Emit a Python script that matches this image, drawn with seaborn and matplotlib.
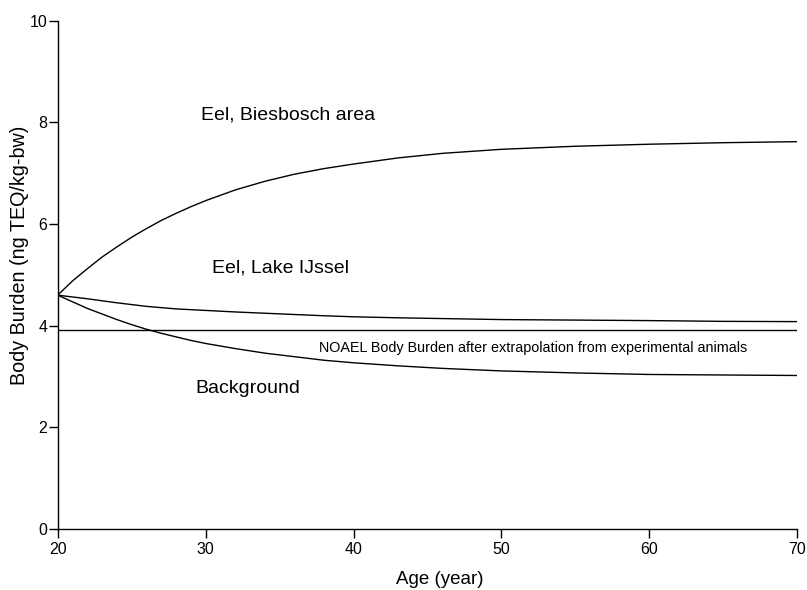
import numpy as np
import pandas as pd
import seaborn as sns
import matplotlib
matplotlib.use("Agg")
import matplotlib.pyplot as plt

# ---- data ----
ages = [20, 21, 22, 23, 24, 25, 26, 27, 28, 29, 30, 32, 34, 36, 38, 40, 43, 46, 50, 55, 60, 65, 70]
biesbosch = [4.60, 4.88, 5.12, 5.35, 5.55, 5.74, 5.91, 6.07, 6.21, 6.34, 6.46,
             6.67, 6.84, 6.98, 7.09, 7.18, 7.30, 7.39, 7.47, 7.53, 7.57, 7.60, 7.62]
lake_ijssel = [4.60, 4.565, 4.53, 4.49, 4.45, 4.415, 4.38, 4.355, 4.33, 4.315, 4.30,
               4.27, 4.245, 4.22, 4.195, 4.175, 4.155, 4.14, 4.12, 4.11, 4.10, 4.085, 4.08]
background = [4.60, 4.47, 4.34, 4.23, 4.12, 4.02, 3.93, 3.85, 3.78, 3.71, 3.65,
              3.55, 3.46, 3.39, 3.32, 3.27, 3.21, 3.16, 3.11, 3.07, 3.04, 3.03, 3.02]
noael_ages = [20, 70]
noael_value = [3.92, 3.92]

series_names = ["Eel, Biesbosch area", "Eel, Lake IJssel", "Background",
                "NOAEL Body Burden after extrapolation from experimental animals"]
label_x = [29.7, 30.45, 29.33, 37.69]
label_y = [8.15, 5.13, 2.755, 3.56]
label_size = [14, 14, 14, 10.4]

x_ticks = [20, 30, 40, 50, 60, 70]
y_ticks = [0, 2, 4, 6, 8, 10]

df = pd.concat([
    pd.DataFrame({"Age": ages, "Burden": biesbosch, "Series": series_names[0]}),
    pd.DataFrame({"Age": ages, "Burden": lake_ijssel, "Series": series_names[1]}),
    pd.DataFrame({"Age": ages, "Burden": background, "Series": series_names[2]}),
    pd.DataFrame({"Age": noael_ages, "Burden": noael_value, "Series": series_names[3]}),
], ignore_index=True)

sns.set_style("ticks")
plt.rcParams["font.family"] = ["Liberation Sans", "DejaVu Sans"]

W, H = 807, 590
fig = plt.figure(figsize=(W / 100, H / 100), dpi=100)
x0, x1, y0, y1 = 57.7, 797.3, 529, 20.7
ax = fig.add_axes([x0 / W, 1 - y0 / H, (x1 - x0) / W, (y0 - y1) / H])

sns.lineplot(data=df, x="Age", y="Burden", hue="Series",
             palette={s: "black" for s in series_names},
             legend=False, linewidth=1.0, ax=ax, estimator=None, sort=True)

for name, lx, ly, fs in zip(series_names, label_x, label_y, label_size):
    ax.text(lx, ly, name, ha="left", va="center", fontsize=fs, color="black")

ax.set_xlim(20, 70)
ax.set_ylim(0, 10)
ax.set_xticks(x_ticks)
ax.set_yticks(y_ticks)
ax.set_xticklabels([str(t) for t in x_ticks])
ax.set_yticklabels([str(t) for t in y_ticks])
ax.margins(0)

for side in ["top", "right"]:
    ax.spines[side].set_visible(False)
for side in ["left", "bottom"]:
    ax.spines[side].set_color("black")
    ax.spines[side].set_linewidth(1.0)

ax.tick_params(axis="x", length=6.5, width=1, pad=3, labelsize=11.5, colors="black")
ax.tick_params(axis="y", length=6.5, width=1, pad=1, labelsize=11.5, colors="black")

ax.set_xlabel("Age (year)", fontsize=13.5, va="center", color="black")
ax.set_ylabel("Body Burden (ng TEQ/kg-bw)", fontsize=14.2, va="center", color="black")
ax.xaxis.set_label_coords((440 - x0) / (x1 - x0), -(579 - y0) / (y0 - y1))
ax.yaxis.set_label_coords((20 - x0) / (x1 - x0), (y0 - 255) / (y0 - y1))

fig.savefig("out.png", dpi=100, facecolor="white")
